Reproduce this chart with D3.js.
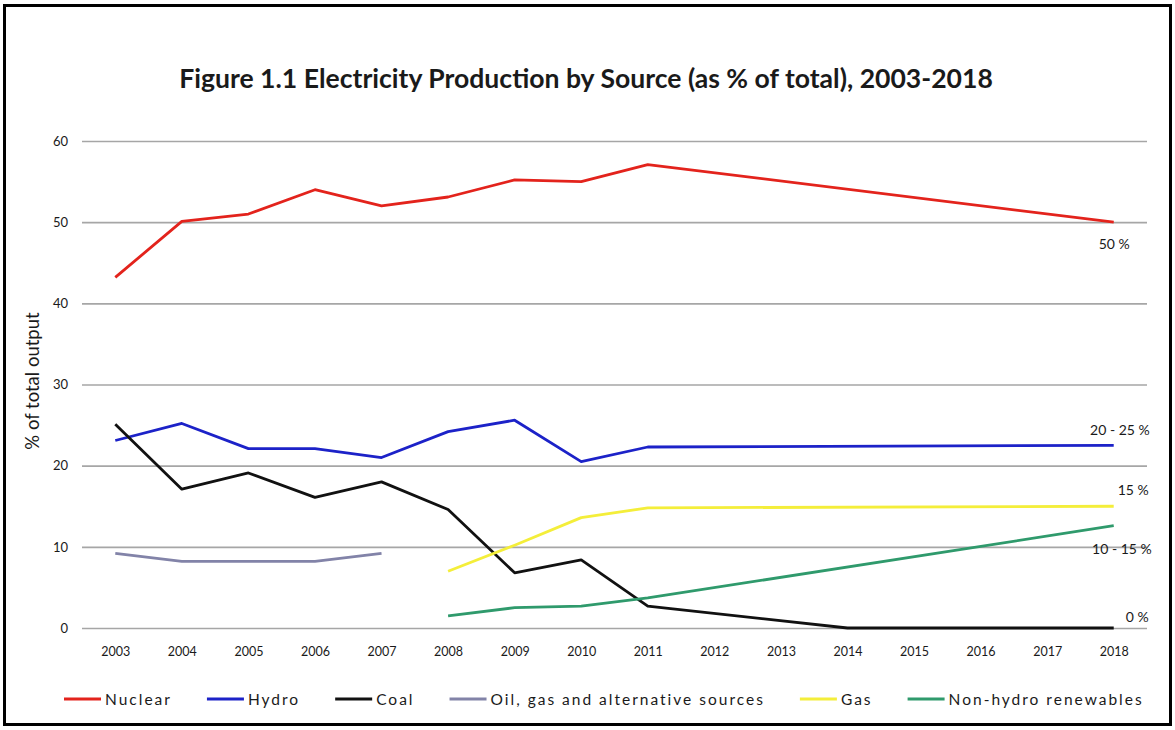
<!DOCTYPE html>
<html>
<head>
<meta charset="utf-8">
<script src="https://cdn.jsdelivr.net/npm/d3@7"></script>
<style>
  html, body { margin: 0; padding: 0; background: #fff; }
  svg { display: block; }
  text { font-family: Lato, "Open Sans", sans-serif; fill: #1a1a1a; }
</style>
</head>
<body>
<svg id="chart" width="1175" height="730"></svg>
<script>
// Years on the x axis
const years = [2003, 2004, 2005, 2006, 2007, 2008, 2009, 2010, 2011, 2012, 2013, 2014, 2015, 2016, 2017, 2018];
const yTicks = [0, 10, 20, 30, 40, 50, 60];

// Share of total electricity output (%); null = no value for that year
const nuclear  = [43.2, 50.1, 51.0, 54.0, 52.0, 53.1, 55.2, 55.0, 57.1, null, null, null, null, null, null, 50.0];
const hydro    = [23.1, 25.2, 22.1, 22.1, 21.0, 24.2, 25.6, 20.5, 22.3, null, null, null, null, null, null, 22.5];
const coal     = [25.1, 17.1, 19.1, 16.1, 18.0, 14.6, 6.8, 8.4, 2.7, null, null, 0.0, null, null, null, 0.0];
const oilGas   = [9.2, 8.2, 8.2, 8.2, 9.2, null, null, null, null, null, null, null, null, null, null, null];
const gas      = [null, null, null, null, null, 7.0, 10.2, 13.6, 14.8, null, null, null, null, null, null, 15.0];
const renew    = [null, null, null, null, null, 1.5, 2.5, 2.7, 3.7, null, null, null, null, null, null, 12.6];

const seriesNames  = ["Nuclear", "Hydro", "Coal", "Oil, gas and alternative sources", "Gas", "Non-hydro renewables"];
const seriesValues = [nuclear, hydro, coal, oilGas, gas, renew];
const seriesColors = ["#e3231c", "#1c22c8", "#111111", "#8283a8", "#f4ee3a", "#2f9a6c"];

// Target-share annotations at the right end of the lines
const endLabelText   = ["50 %", "20 - 25 %", "15 %", "10 - 15 %", "0 %"];
const endLabelSeries = [0, 1, 4, 5, 2];

const svg = d3.select("#chart");

// Outer frame
svg.append("rect")
  .attr("x", 4.5).attr("y", 5.5).attr("width", 1166).attr("height", 719)
  .attr("fill", "none").attr("stroke", "#000").attr("stroke-width", 3);

const x = d3.scalePoint().domain(years).range([82, 1147]).padding(0.5);
const y = d3.scaleLinear().domain([0, 60]).range([628, 141]);

// Title, fitted to its width
const title = svg.append("text")
  .attr("x", 586).attr("y", 88)
  .attr("text-anchor", "middle")
  .style("font-weight", "bold")
  .style("font-size", "24px")
  .text("Figure 1.1 Electricity Production by Source (as % of total), 2003-2018");
{
  const w = title.node().getComputedTextLength();
  title.style("font-size", (24 * 814 / w).toFixed(2) + "px");
}

// Horizontal gridlines + y axis labels
const yAxis = d3.axisLeft(y).tickValues(yTicks).tickSize(-(1147 - 82)).tickPadding(14);
const gy = svg.append("g").attr("transform", "translate(82,0)").call(yAxis);
gy.select(".domain").remove();
gy.selectAll(".tick line").attr("stroke", "#a6a6a6").attr("stroke-width", 1.6);
gy.selectAll(".tick text")
  .style("font-size", "13px").style("font-family", "Lato, sans-serif").attr("fill", "#222");

// X axis labels (no line)
const xAxis = d3.axisBottom(x).tickSize(0).tickPadding(0);
const gx = svg.append("g").attr("transform", "translate(0,647)").call(xAxis);
gx.select(".domain").remove();
gx.selectAll(".tick text")
  .style("font-size", "12.5px").style("font-family", "Lato, sans-serif").attr("fill", "#222");

// Y axis title
svg.append("text")
  .attr("transform", "translate(39,381) rotate(-90)")
  .attr("text-anchor", "middle")
  .style("font-size", "18.5px")
  .text("% of total output");

// Lines
const line = d3.line()
  .x(d => x(d.year))
  .y(d => y(d.value));

seriesValues.forEach((vals, i) => {
  const pts = years.map((yr, j) => ({ year: yr, value: vals[j] })).filter(d => d.value !== null);
  svg.append("path")
    .datum(pts)
    .attr("fill", "none")
    .attr("stroke", seriesColors[i])
    .attr("stroke-width", 2.8)
    .attr("stroke-linejoin", "round")
    .attr("d", line);
});

// Right-end annotations
const labelOffsets = [
  { dx: 16, dy: 27 },   // 50 %
  { dx: 36, dy: -10 },  // 20 - 25 %
  { dx: 35, dy: -11 },  // 15 %
  { dx: 38, dy: 28 },   // 10 - 15 %
  { dx: 35, dy: -6 }    // 0 %
];
endLabelText.forEach((t, i) => {
  const vals = seriesValues[endLabelSeries[i]];
  const last = vals[vals.length - 1];
  svg.append("text")
    .attr("x", x(years[years.length - 1]) + labelOffsets[i].dx)
    .attr("y", y(last) + labelOffsets[i].dy)
    .attr("text-anchor", "end")
    .style("font-size", "14px")
    .text(t);
});

// Legend
const legend = svg.append("g").attr("transform", "translate(0,699)");
let lx = 64;
seriesNames.forEach((name, i) => {
  legend.append("line")
    .attr("x1", lx).attr("x2", lx + 37)
    .attr("y1", 0).attr("y2", 0)
    .attr("stroke", seriesColors[i]).attr("stroke-width", 3);
  const t = legend.append("text")
    .attr("x", lx + 41).attr("y", 5.5)
    .style("font-size", "15.5px")
    .style("letter-spacing", "2px")
    .text(name);
  lx += 41 + t.node().getComputedTextLength() + 35;
});
</script>
</body>
</html>
